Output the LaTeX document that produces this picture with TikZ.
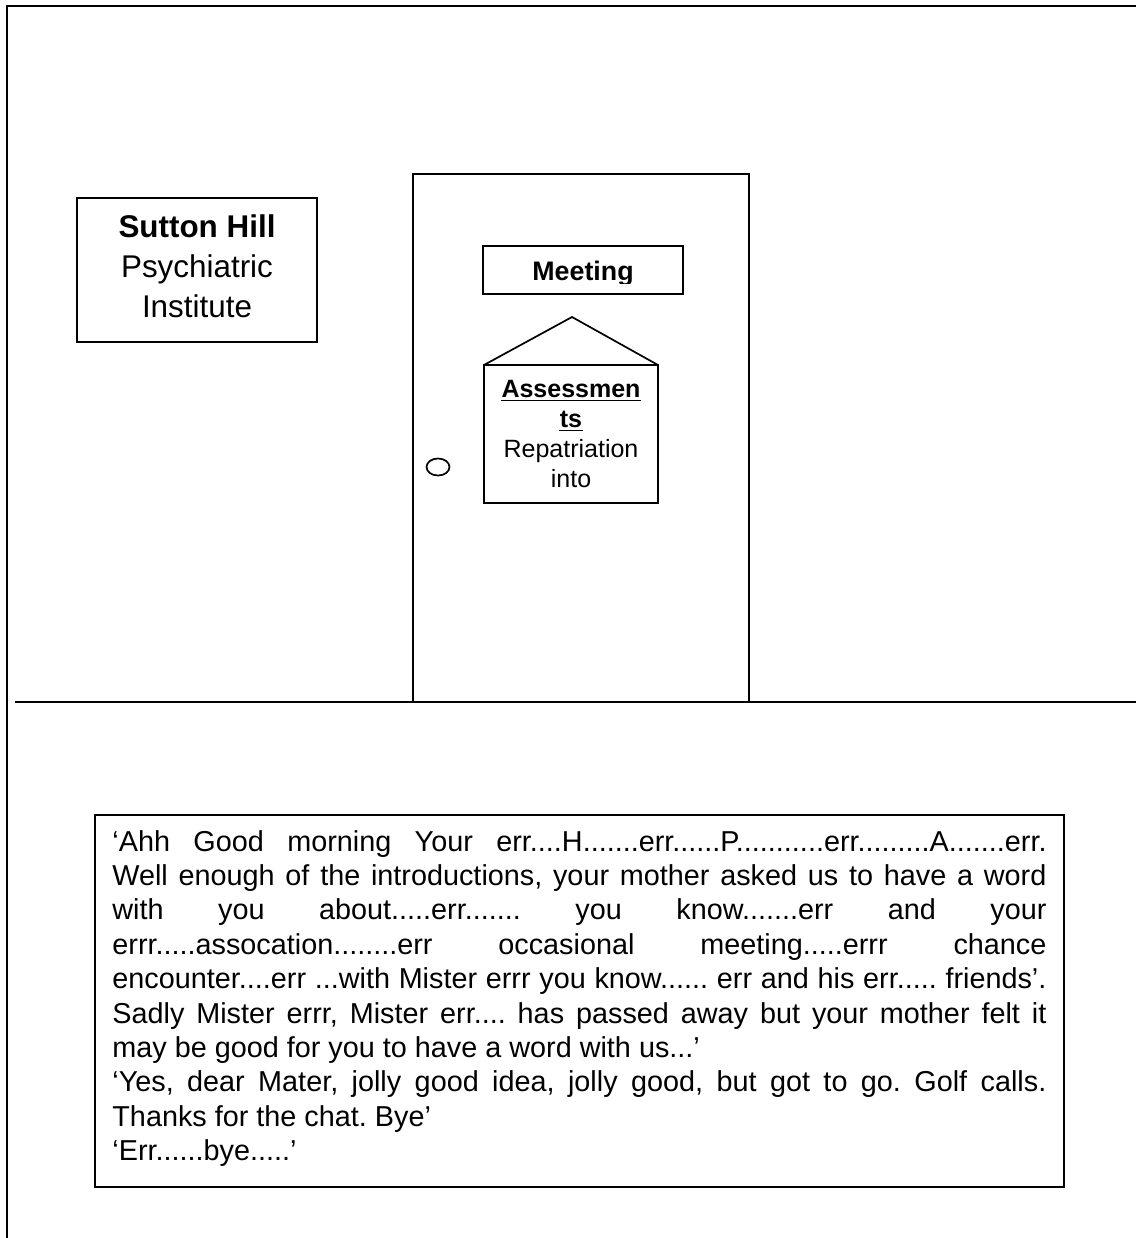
\documentclass[tikz,border=0pt]{standalone}
\usepackage{fontspec}
\setmainfont{Liberation Sans}
\frenchspacing
\begin{document}
\begin{tikzpicture}[x=0.5pt,y=-0.5pt,
  wall/.style={line width=1.1pt},
  frame/.style={line width=0.85pt},
  label/.style={inner sep=0pt, anchor=base},
  signfont/.style={font=\fontsize{15.7}{20}\selectfont},
  doorfont/.style={font=\fontsize{12.5}{15}\selectfont},
  ulinestyle/.style={line width=0.7pt}]
\useasboundingbox (0,0) rectangle (1136,1238);

% room: wall outline and floor
\draw[wall] (7,1238) -- (7,6) -- (1136,6);
\draw[wall] (15,702) -- (1136,702);

% door
\draw[frame] (413,702) -- (413,174) -- (749,174) -- (749,702);
\draw[frame] (438,467) ellipse [x radius=11.5, y radius=8.5];

% institute name board
\draw[frame] (77,198) rectangle (317,342);
\node[label, signfont] (sutton) at (197,237) {\bfseries Sutton Hill};
\node[label, signfont] (psych) at (197,277) {Psychiatric};
\node[label, signfont] (inst) at (197,317) {Institute};

% "Meeting" plate, lettering cut off by the plate's inner edge
\draw[frame] (483,246) rectangle (683,294);
\begin{scope}
  \clip (483,246) rectangle (683,283);
  \node[label, font=\fontsize{13.4}{15}\selectfont] (meeting) at (583,280) {\bfseries Meeting};
\end{scope}

% hanging sign with roof
\draw[frame] (484,365) -- (572,317) -- (658,365);
\draw[frame] (484,365) rectangle (658,503);
\node[label, doorfont] (assess) at (571,397) {\bfseries Assessmen};
\node[label, doorfont] (ts) at (571,427) {\bfseries ts};
\draw[ulinestyle] ([yshift=-1.6pt]assess.base west) -- ([yshift=-1.6pt]assess.base east);
\draw[ulinestyle] ([yshift=-1.6pt]ts.base west) -- ([yshift=-1.6pt]ts.base east);
\node[label, doorfont] (repat) at (571,457) {Repatriation};
\node[label, doorfont] (into) at (571,487) {into};

% dialogue box
\draw[frame] (95,815) rectangle (1064,1187);
\node[inner sep=0pt, anchor=base west] (talk) at (112,851) {\parbox[t]{467pt}{%
\fontsize{14.4}{17.2}\selectfont
\makebox[\linewidth][s]{‘Ahh Good morning Your err....H.......err......P...........err.........A.......err.}\par
\makebox[\linewidth][s]{Well enough of the introductions, your mother asked us to have a word}\par
\makebox[\linewidth][s]{with you about.....err....... you know.......err and your}\par
\makebox[\linewidth][s]{errr.....assocation........err occasional meeting.....errr chance}\par
\makebox[\linewidth][s]{encounter....err ...with Mister errr you know...... err and his err..... friends’.}\par
\makebox[\linewidth][s]{Sadly Mister errr, Mister err.... has passed away but your mother felt it}\par
\makebox[\linewidth][l]{may be good for you to have a word with us...’}\par
\makebox[\linewidth][s]{‘Yes, dear Mater, jolly good idea, jolly good, but got to go. Golf calls.}\par
\makebox[\linewidth][l]{Thanks for the chat. Bye’}\par
\makebox[\linewidth][l]{‘Err......bye.....’}}};
\end{tikzpicture}
\end{document}
